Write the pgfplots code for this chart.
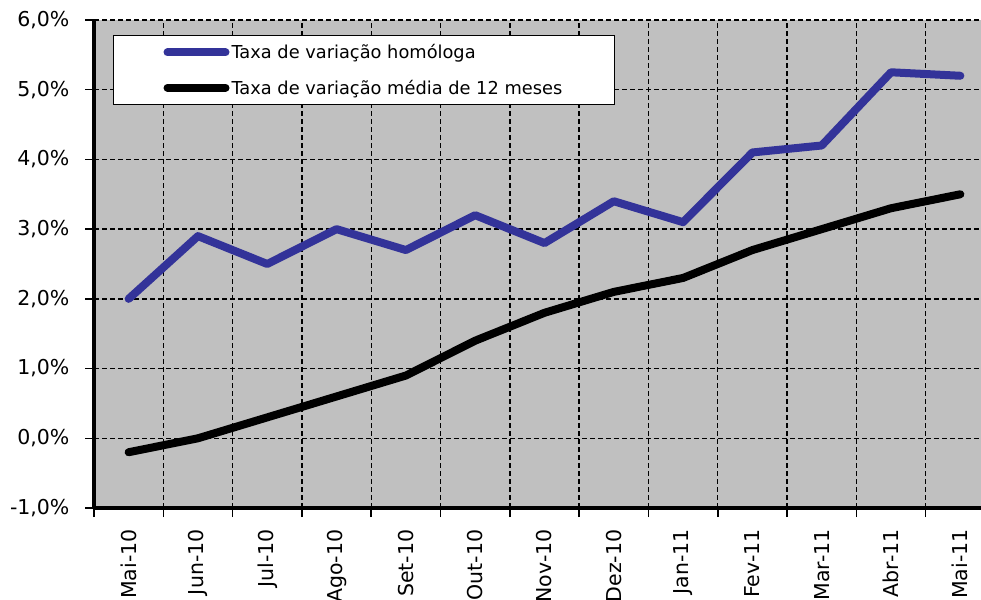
\documentclass[border=0pt]{standalone}
\usepackage{pgfplots}
\pgfplotsset{compat=1.18}
\usepackage{fontspec}
\setmainfont{DejaVu Sans}
\definecolor{serieblue}{HTML}{333399}
\definecolor{plotgray}{HTML}{C0C0C0}
\begin{document}
\begin{tikzpicture}
\useasboundingbox (0bp,0bp) rectangle (981bp,600bp);
\clip (0bp,0bp) rectangle (981bp,600bp);
\begin{axis}[
  at={(94bp,92bp)}, anchor=south west,
  scale only axis, width=901bp, height=488bp,
  xmin=-0.5, xmax=12.5, ymin=-1, ymax=6,
  axis x line*=bottom, axis y line*=left,
  axis line style={line width=3bp, black},
  axis background/.style={fill=plotgray},
  xtick={-0.5,0.5,...,12.5},
  xticklabels={},
  ytick={-1,0,...,6},
  yticklabels={{-1,0\%},{0,0\%},{1,0\%},{2,0\%},{3,0\%},{4,0\%},{5,0\%},{6,0\%}},
  xmajorgrids, ymajorgrids,
  grid style={black, line width=1.4bp, dash pattern=on 5bp off 3bp},
  tick align=outside,
  major tick length=9bp,
  tick style={black, line width=1.5bp},
  ticklabel style={font=\fontsize{20.5bp}{24bp}\selectfont},
  extra x ticks={0,1,...,12},
  extra x tick labels={Mai-10,Jun-10,Jul-10,Ago-10,Set-10,Out-10,Nov-10,Dez-10,Jan-11,Fev-11,Mar-11,Abr-11,Mai-11},
  extra x tick style={major tick length=0pt, xmajorgrids=false,
    xticklabel style={rotate=90, anchor=east, xshift=-18bp}},
  yticklabel style={xshift=-12bp},
  legend style={at={(0.0211,0.969)}, anchor=north west, draw=black, line width=1bp,
    fill=white, font=\fontsize{17.8bp}{21bp}\selectfont,
    inner xsep=50bp, inner ysep=7bp, row sep=15.5bp,
    cells={anchor=west}},
  legend image code/.code={\draw[#1, line cap=round] (0bp,0bp) -- (58bp,0bp);},
]
\addplot[serieblue, line width=8bp, line join=round, line cap=round] coordinates {
  (0,2.0) (1,2.9) (2,2.5) (3,3.0) (4,2.7) (5,3.2) (6,2.8) (7,3.4) (8,3.1) (9,4.1) (10,4.2) (11,5.25) (12,5.2)};
\addlegendentry{Taxa de variação homóloga}
\addplot[black, line width=8bp, line join=round, line cap=round] coordinates {
  (0,-0.2) (1,0.0) (2,0.3) (3,0.6) (4,0.9) (5,1.4) (6,1.8) (7,2.1) (8,2.3) (9,2.7) (10,3.0) (11,3.3) (12,3.5)};
\addlegendentry{Taxa de variação média de 12 meses}
\end{axis}
\end{tikzpicture}
\end{document}
